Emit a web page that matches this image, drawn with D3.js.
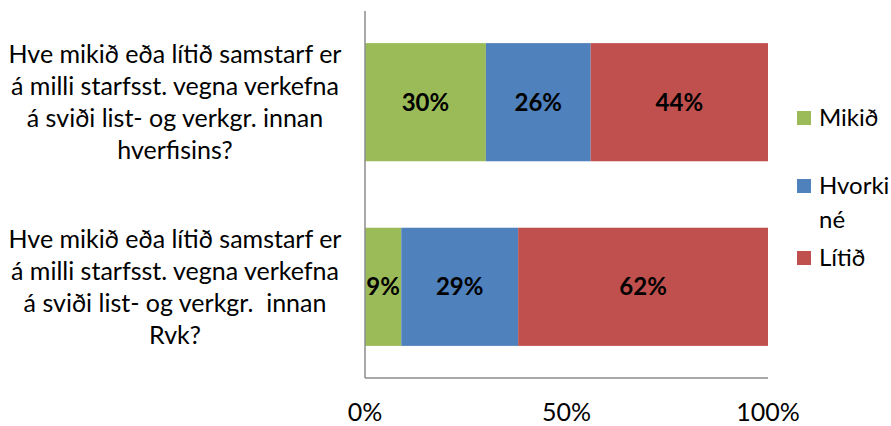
<!DOCTYPE html>
<html>
<head>
<meta charset="utf-8">
<script src="https://cdn.jsdelivr.net/npm/d3@7"></script>
<style>
  body { margin: 0; background: #fff; }
  text { font-family: Lato, "Open Sans", sans-serif; fill: #000; }
</style>
</head>
<body>
<div id="chart"></div>
<script>
// chart values
var categories = [
    ["Hve mikið eða lítið samstarf er", "á milli starfsst. vegna verkefna", "á sviði list- og verkgr. innan", "hverfisins?"],
    ["Hve mikið eða lítið samstarf er", "á milli starfsst. vegna verkefna", "á sviði list- og verkgr.  innan", "Rvk?"]
];
var seriesNames = ["Mikið", "Hvorki né", "Lítið"];
var mikid = [30, 9];
var hvorki = [26, 29];
var litid = [44, 62];
var tickValues = [0, 50, 100];
var colors = ["#9BBB59", "#4F81BD", "#C0504D"];

var W = 891, H = 426;
var m = {top: 11, right: 123, bottom: 48, left: 365};

var svg = d3.select("#chart").append("svg")
    .attr("width", W)
    .attr("height", H);

var x = d3.scaleLinear().domain([0, 100]).range([m.left, 768]);
var y = d3.scaleBand().domain(d3.range(categories.length))
    .range([m.top, H - m.bottom])
    .paddingInner(0.36).paddingOuter(0.174);

// stack series
var rows = categories.map(function(c, i) {
    return {i: i, "Mikið": mikid[i], "Hvorki né": hvorki[i], "Lítið": litid[i]};
});
var stack = d3.stack().keys(seriesNames)(rows);

var layer = svg.selectAll(".layer")
    .data(stack)
    .enter().append("g")
    .attr("class", "layer")
    .attr("fill", function(d, i) { return colors[i]; });

layer.selectAll("rect")
    .data(function(d) { return d; })
    .enter().append("rect")
    .attr("x", function(d) { return x(d[0]); })
    .attr("y", function(d) { return y(d.data.i); })
    .attr("width", function(d) { return x(d[1]) - x(d[0]); })
    .attr("height", y.bandwidth());

layer.selectAll("text")
    .data(function(d) { return d; })
    .enter().append("text")
    .attr("x", function(d) { return (x(d[0]) + x(d[1])) / 2; })
    .attr("y", function(d) { return y(d.data.i) + y.bandwidth() / 2; })
    .attr("dy", "0.35em")
    .attr("text-anchor", "middle")
    .style("font-weight", "bold")
    .style("font-size", "24px")
    .text(function(d) { return (d[1] - d[0]) + "%"; });

// axes lines
svg.append("line")
    .attr("x1", x(0)).attr("x2", x(0))
    .attr("y1", m.top).attr("y2", H - m.bottom)
    .attr("stroke", "#8c8c8c").attr("stroke-width", 1.5);
svg.append("line")
    .attr("x1", x(0)).attr("x2", x(100))
    .attr("y1", H - m.bottom).attr("y2", H - m.bottom)
    .attr("stroke", "#8c8c8c").attr("stroke-width", 1.5);

// tick labels
svg.selectAll(".tick")
    .data(tickValues)
    .enter().append("text")
    .attr("class", "tick")
    .attr("x", function(d) { return x(d); })
    .attr("y", 412)
    .attr("dy", "0.35em")
    .attr("text-anchor", "middle")
    .style("font-size", "25px")
    .text(function(d) { return d + "%"; });

// category labels
categories.forEach(function(lines, i) {
    var cy = y(i) + y.bandwidth() / 2;
    var t = svg.append("text")
        .attr("text-anchor", "middle")
        .style("font-size", "25px");
    lines.forEach(function(l, j) {
        t.append("tspan")
            .attr("x", 175)
            .attr("y", cy + (j - 1.5) * 32)
            .attr("dy", "0.35em")
            .style("white-space", "pre")
            .text(l);
    });
});

// legend
var legendRows = [
    {name: "Mikið", lines: ["Mikið"], y: 118},
    {name: "Hvorki né", lines: ["Hvorki", "né"], y: 186},
    {name: "Lítið", lines: ["Lítið"], y: 258}
];
var lg = svg.selectAll(".legend")
    .data(legendRows)
    .enter().append("g")
    .attr("class", "legend");

lg.append("rect")
    .attr("x", 797)
    .attr("y", function(d) { return d.y - 7; })
    .attr("width", 14).attr("height", 14)
    .attr("fill", function(d, i) { return colors[i]; });

lg.each(function(d) {
    var t = d3.select(this).append("text").style("font-size", "24px");
    d.lines.forEach(function(l, j) {
        t.append("tspan")
            .attr("x", 819)
            .attr("y", d.y + j * 34)
            .attr("dy", "0.35em")
            .text(l);
    });
});
</script>
</body>
</html>
